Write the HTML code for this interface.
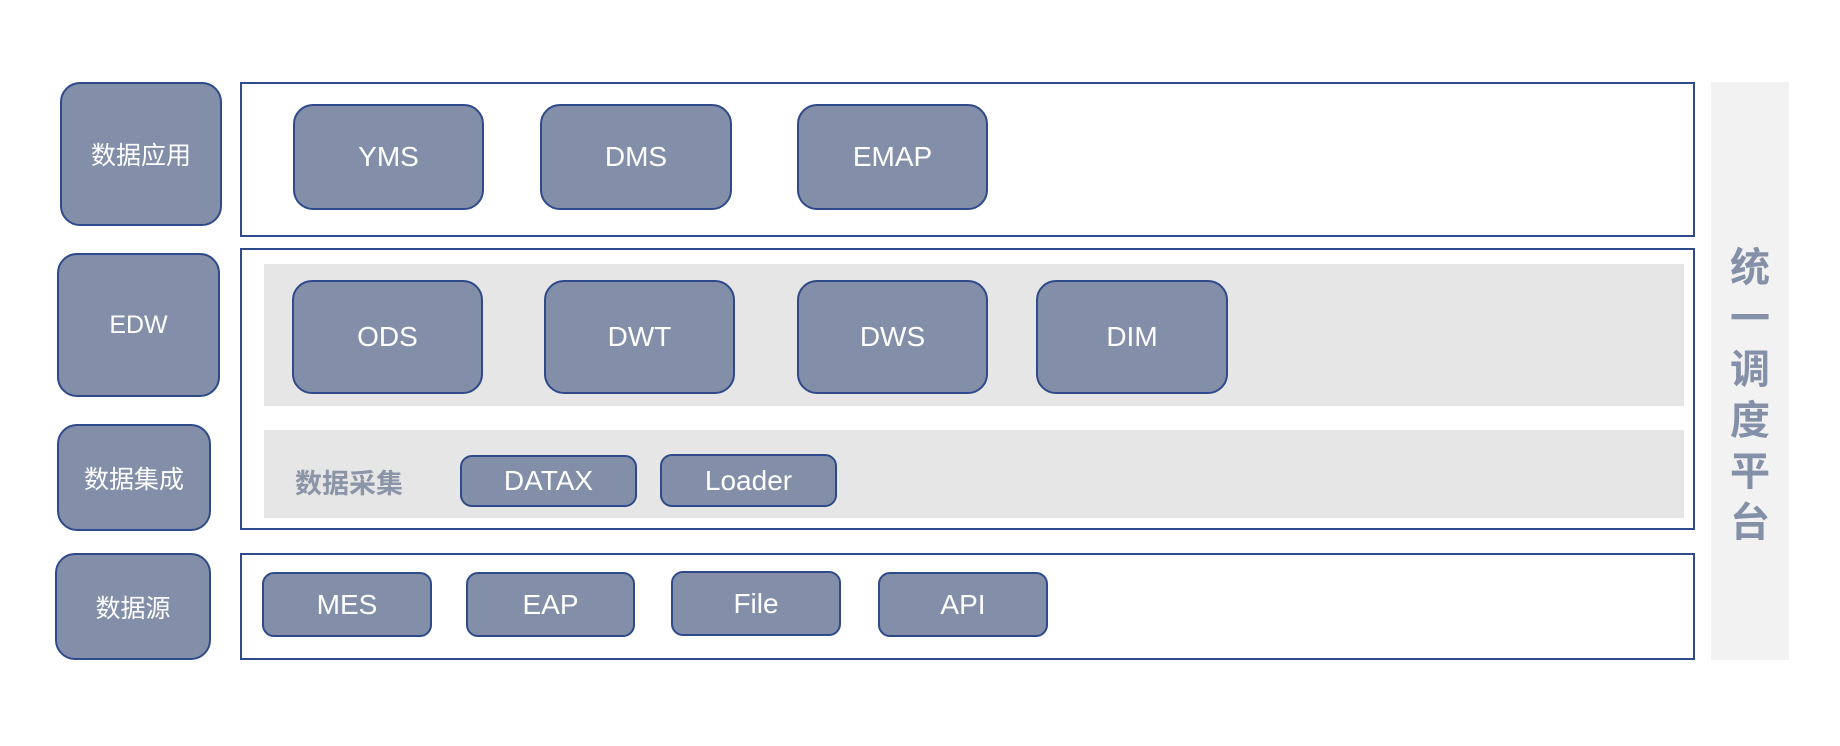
<!DOCTYPE html>
<html><head><meta charset="utf-8"><style>
body{margin:0;width:1840px;height:746px;background:#fff;position:relative;overflow:hidden;font-family:"Liberation Sans","Noto Sans CJK SC",sans-serif;}
div{position:absolute;box-sizing:border-box;}
.n{background:#838fa9;border:2px solid #2f4a8a;border-radius:20px;color:#fff;display:flex;align-items:center;justify-content:center;font-size:28px;}
.s{border-radius:12px;}
.o{border:2px solid #2f4b8c;}
.g{background:#e6e6e6;}
.c{font-size:25px;}
</style></head><body>
<div class="o" style="left:240px;top:82px;width:1455px;height:155px"></div>
<div class="o" style="left:240px;top:248px;width:1455px;height:282px"></div>
<div class="o" style="left:240px;top:553px;width:1455px;height:107px"></div>
<div class="g" style="left:264px;top:264px;width:1420px;height:142px"></div>
<div class="g" style="left:264px;top:430px;width:1420px;height:88px"></div>
<div style="left:1711px;top:82px;width:78px;height:578px;background:#f2f2f2"></div>
<div style="left:1711px;top:243px;width:78px;font-size:40px;font-weight:bold;color:#8490a8;text-align:center;line-height:51px">统<br>一<br>调<br>度<br>平<br>台</div>

<div class="n c" style="left:60px;top:82px;width:162px;height:144px">数据应用</div>
<div class="n c" style="left:57px;top:253px;width:163px;height:144px">EDW</div>
<div class="n c" style="left:57px;top:424px;width:154px;height:107px">数据集成</div>
<div class="n c" style="left:55px;top:553px;width:156px;height:107px">数据源</div>

<div class="n" style="left:293px;top:104px;width:191px;height:106px">YMS</div>
<div class="n" style="left:540px;top:104px;width:192px;height:106px">DMS</div>
<div class="n" style="left:797px;top:104px;width:191px;height:106px">EMAP</div>

<div class="n" style="left:292px;top:280px;width:191px;height:114px">ODS</div>
<div class="n" style="left:544px;top:280px;width:191px;height:114px">DWT</div>
<div class="n" style="left:797px;top:280px;width:191px;height:114px">DWS</div>
<div class="n" style="left:1036px;top:280px;width:192px;height:114px">DIM</div>

<div style="left:295px;top:462px;font-size:27px;font-weight:bold;color:#8c95a8">数据采集</div>
<div class="n s" style="left:460px;top:455px;width:177px;height:52px">DATAX</div>
<div class="n s" style="left:660px;top:454px;width:177px;height:53px">Loader</div>

<div class="n s" style="left:262px;top:572px;width:170px;height:65px">MES</div>
<div class="n s" style="left:466px;top:572px;width:169px;height:65px">EAP</div>
<div class="n s" style="left:671px;top:571px;width:170px;height:65px">File</div>
<div class="n s" style="left:878px;top:572px;width:170px;height:65px">API</div>
</body></html>
